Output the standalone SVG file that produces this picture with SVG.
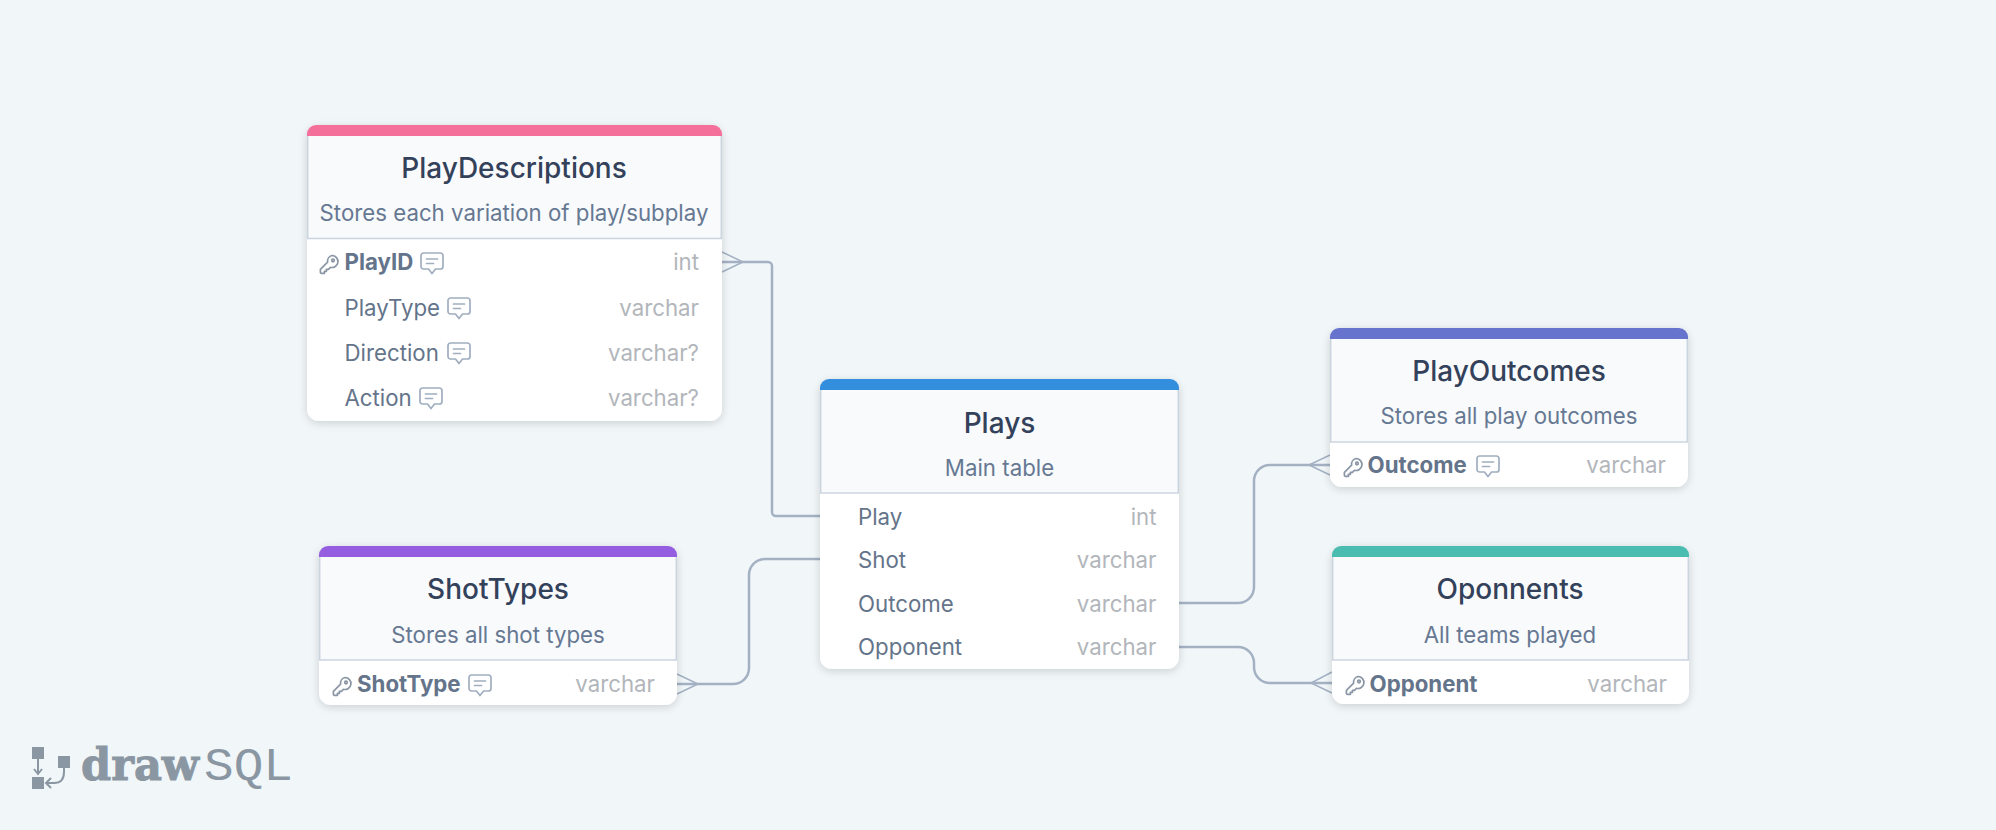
<svg xmlns="http://www.w3.org/2000/svg" width="1996" height="830" viewBox="0 0 1996 830">
<style>
text{font-family:Inter,"Noto Sans",sans-serif}
.card{fill:#fff;filter:url(#sh)}
.head{fill:#f8fafc;stroke:#cbd5e0;stroke-width:1.5}
.t{font-size:28px;font-weight:500;fill:#33415a;text-anchor:middle}
.s{font-size:22.250px;fill:#667892;text-anchor:middle}
.f{font-size:22.250px;fill:#64748a}
.b{font-weight:700}
.y{font-size:22.250px;fill:#b2b6bb;text-anchor:end}
.c{fill:none;stroke:#a3b1c3;stroke-width:2.500}
.m{fill:none;stroke:#a3b1c3;stroke-width:1.500}
.i{fill:none;stroke:#a0aec0;stroke-width:1.700;stroke-linejoin:round;stroke-linecap:round}
.k{fill:none;stroke:#8a96a6;stroke-width:1.700;stroke-linejoin:round;stroke-linecap:round}
.l{fill:#8a97a3}
</style>
<defs>
<filter id="sh" x="-10%" y="-10%" width="120%" height="125%"><feDropShadow dx="0" dy="2" stdDeviation="4" flood-color="#000" flood-opacity="0.16"/></filter>
<symbol id="cm" viewBox="0 0 24 24" width="24" height="24" overflow="visible"><path class="i" d="M3.500 1h17a2.500 2.500 0 0 1 2.500 2.500v11a2.500 2.500 0 0 1-2.500 2.500h-5l-3.500 4.500-3.500-4.500h-5a2.500 2.500 0 0 1-2.500-2.500v-11a2.500 2.500 0 0 1 2.500-2.500zM6.500 7h11M6.500 11.500h7"/></symbol>
<symbol id="key" viewBox="0 0 20 20" width="20" height="20" overflow="visible"><path class="k" d="M13 0.500a6 6 0 1 1-1.600 11.800l-2 2h-2v2h-2v2h-3a1 1 0 0 1-1-1v-3l7.200-7.200a6 6 0 0 1 4.400-6.600z"/><circle class="k" cx="14" cy="5.500" r="1.300"/></symbol>
</defs>
<rect width="1996" height="830" fill="#f1f6f9"/>
<g id="connectors">
<path class="c" d="M722 262H768a4 4 0 0 1 4 4V512a4 4 0 0 0 4 4H820"/>
<path class="m" d="M722 252L743 262L722 272"/>
<path class="c" d="M677 684H733a16 16 0 0 0 16-16V575a16 16 0 0 1 16-16H820"/>
<path class="m" d="M677 674L698 684L677 694"/>
<path class="c" d="M1179 603H1238a16 16 0 0 0 16-16V481a16 16 0 0 1 16-16H1330"/>
<path class="m" d="M1330 455L1309 465L1330 475"/>
<path class="c" d="M1179 647H1238a16 16 0 0 1 16 16V667a16 16 0 0 0 16 16H1332"/>
<path class="m" d="M1332 672L1311 683L1332 693"/>
</g>
<g id="PlayDescriptions">
<rect class="card" x="307" y="125" width="415" height="296" rx="12"/>
<path class="head" d="M307.700 134V238.500H721.300V134z"/>
<path fill="#f56f9b" d="M307 136v-2a9 9 0 0 1 9-9h397a9 9 0 0 1 9 9v2z"/>
<text class="t" x="514" y="178">PlayDescriptions</text>
<text class="s" x="514" y="221">Stores each variation of play/subplay</text>
<use href="#key" x="319" y="255"/>
<text class="f b" x="344.500" y="270">PlayID</text>
<use href="#cm" x="420" y="252"/>
<text class="y" x="699" y="270">int</text>
<text class="f" x="344.500" y="316">PlayType</text>
<use href="#cm" x="447" y="297"/>
<text class="y" x="699" y="316">varchar</text>
<text class="f" x="344.500" y="361">Direction</text>
<use href="#cm" x="447" y="342"/>
<text class="y" x="699" y="361">varchar?</text>
<text class="f" x="344.500" y="406">Action</text>
<use href="#cm" x="419" y="387"/>
<text class="y" x="699" y="406">varchar?</text>
</g>
<g id="Plays">
<rect class="card" x="820" y="379" width="359" height="290" rx="12"/>
<path class="head" d="M820.700 388V493H1178.300V388z"/>
<path fill="#338fdd" d="M820 390v-2a9 9 0 0 1 9-9h341a9 9 0 0 1 9 9v2z"/>
<text class="t" x="999.500" y="433">Plays</text>
<text class="s" x="999.500" y="476">Main table</text>
<text class="f" x="858" y="525">Play</text>
<text class="y" x="1156.500" y="525">int</text>
<text class="f" x="858" y="568">Shot</text>
<text class="y" x="1156.500" y="568">varchar</text>
<text class="f" x="858" y="612">Outcome</text>
<text class="y" x="1156.500" y="612">varchar</text>
<text class="f" x="858" y="655">Opponent</text>
<text class="y" x="1156.500" y="655">varchar</text>
</g>
<g id="ShotTypes">
<rect class="card" x="319" y="546" width="358" height="159" rx="12"/>
<path class="head" d="M319.700 555V660H676.300V555z"/>
<path fill="#955ee0" d="M319 557v-2a9 9 0 0 1 9-9h340a9 9 0 0 1 9 9v2z"/>
<text class="t" x="498" y="599">ShotTypes</text>
<text class="s" x="498" y="643">Stores all shot types</text>
<use href="#key" x="332" y="677"/>
<text class="f b" x="357" y="692">ShotType</text>
<use href="#cm" x="468" y="674"/>
<text class="y" x="655" y="692">varchar</text>
</g>
<g id="PlayOutcomes">
<rect class="card" x="1330" y="328" width="358" height="159" rx="12"/>
<path class="head" d="M1330.700 337V442H1687.300V337z"/>
<path fill="#6674cd" d="M1330 339v-2a9 9 0 0 1 9-9h340a9 9 0 0 1 9 9v2z"/>
<text class="t" x="1509" y="381">PlayOutcomes</text>
<text class="s" x="1509" y="424">Stores all play outcomes</text>
<use href="#key" x="1343" y="458"/>
<text class="f b" x="1367.500" y="473">Outcome</text>
<use href="#cm" x="1476" y="455"/>
<text class="y" x="1666" y="473">varchar</text>
</g>
<g id="Oponnents">
<rect class="card" x="1332" y="546" width="357" height="158" rx="12"/>
<path class="head" d="M1332.700 555V660H1688.300V555z"/>
<path fill="#4bbdb0" d="M1332 557v-2a9 9 0 0 1 9-9h339a9 9 0 0 1 9 9v2z"/>
<text class="t" x="1510" y="599">Oponnents</text>
<text class="s" x="1510" y="643">All teams played</text>
<use href="#key" x="1345" y="676"/>
<text class="f b" x="1369.500" y="692">Opponent</text>
<text class="y" x="1667" y="692">varchar</text>
</g>
<g id="logo">
<rect class="l" x="32" y="747" width="12" height="12"/>
<rect class="l" x="32" y="777" width="12" height="12"/>
<rect class="l" x="58" y="756" width="12" height="12"/>
<path d="M38 759V773M34 769L38 774L42 769M64 768V772Q64 783 54 783H47M51 778L46 783L51 788" fill="none" stroke="#8a97a3" stroke-width="2"/>
<text class="l" x="81" y="780" font-size="45" font-weight="700" stroke="#8a97a3" stroke-width="1" style="font-family:'DejaVu Serif',serif" textLength="118" lengthAdjust="spacingAndGlyphs">draw</text>
<text class="l" x="204" y="780" font-size="46" style="font-family:'Liberation Mono',monospace;font-weight:400" textLength="89" lengthAdjust="spacingAndGlyphs">SQL</text>
</g>
</svg>
